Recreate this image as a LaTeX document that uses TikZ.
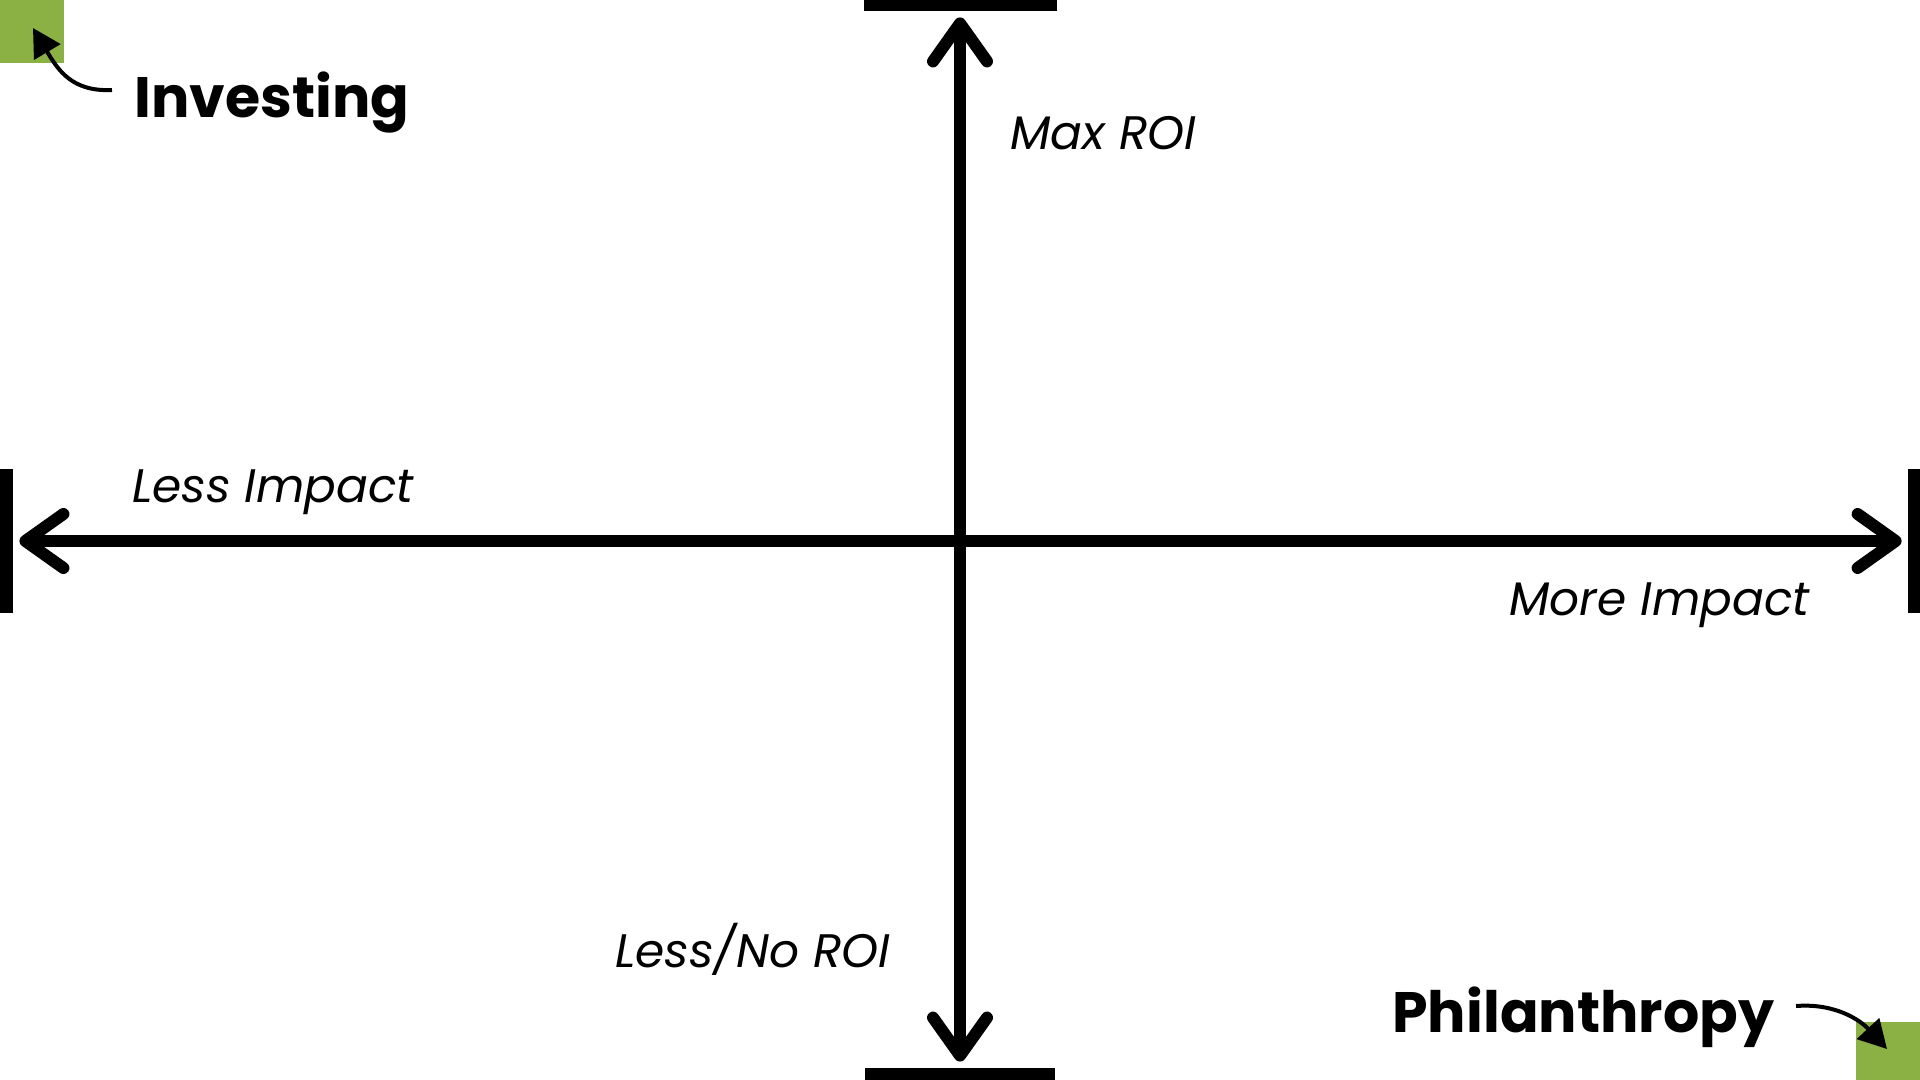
\documentclass[tikz,border=0pt]{standalone}
\usepackage{fontspec}
\setmainfont{Poppins}
\usetikzlibrary{arrows.meta}
\definecolor{leafgreen}{RGB}{139,176,67}
\tikzset{
  bar/.style={fill=black, draw=none, inner sep=0pt, rectangle},
  axis/.style={line width=6pt, {Straight Barb[round,length=19pt,width=27pt]}-{Straight Barb[round,length=19pt,width=27pt]}, shorten <=3pt, shorten >=3pt},
  pointer/.style={line width=2pt, -{Triangle[length=14pt,width=15pt]}},
  axislabel/.style={font=\fontsize{23.5}{27}\selectfont\itshape, anchor=base west, inner sep=0pt},
  bigtitle/.style={font=\fontsize{28.5}{33}\selectfont\bfseries, anchor=base west, inner sep=0pt},
  greenbox/.style={fill=leafgreen, draw=none, inner sep=0pt, minimum size=32pt, rectangle}
}
\begin{document}
\begin{tikzpicture}[x=0.5pt,y=-0.5pt]
\useasboundingbox (0,0) rectangle (1920,1080);
% green squares
\node[greenbox] (gTL) at (32,31) {};
\node[greenbox] (gBR) at (1888,1054) {};
% bars
\node[bar, minimum width=96.5pt, minimum height=6pt] (topbar) at (960,5) {};
\node[bar, minimum width=95pt, minimum height=6pt] (bottombar) at (960,1074) {};
\node[bar, minimum width=6.5pt, minimum height=72pt] (leftbar) at (6.5,541) {};
\node[bar, minimum width=6pt, minimum height=72pt] (rightbar) at (1914,541) {};
% axes
\draw[axis] (leftbar.east) -- (rightbar.west);
\draw[axis] (bottombar.north) -- (topbar.south);
% labels
\node[axislabel] (maxroi) at (1010,150) {Max ROI};
\node[axislabel] (lessimp) at (132,502) {Less Impact};
\node[axislabel] (moreimp) at (1509,615) {More Impact};
\node[axislabel] (lessroi) at (615,967) {Less/No ROI};
\node[bigtitle] (invest) at (134,118) {Investing};
\node[bigtitle] (phil) at (1392,1032) {Philanthropy};
% pointers
\coordinate (invtail) at (112,90);
\coordinate (invtip) at (33,28);
\draw[pointer] (invtail) .. controls (72,92) and (58,70) .. (invtip);
\coordinate (philtail) at (1796,1006);
\coordinate (philtip) at (1887,1049);
\draw[pointer] (philtail) .. controls (1835,1003) and (1860,1020) .. (philtip);
\end{tikzpicture}
\end{document}
